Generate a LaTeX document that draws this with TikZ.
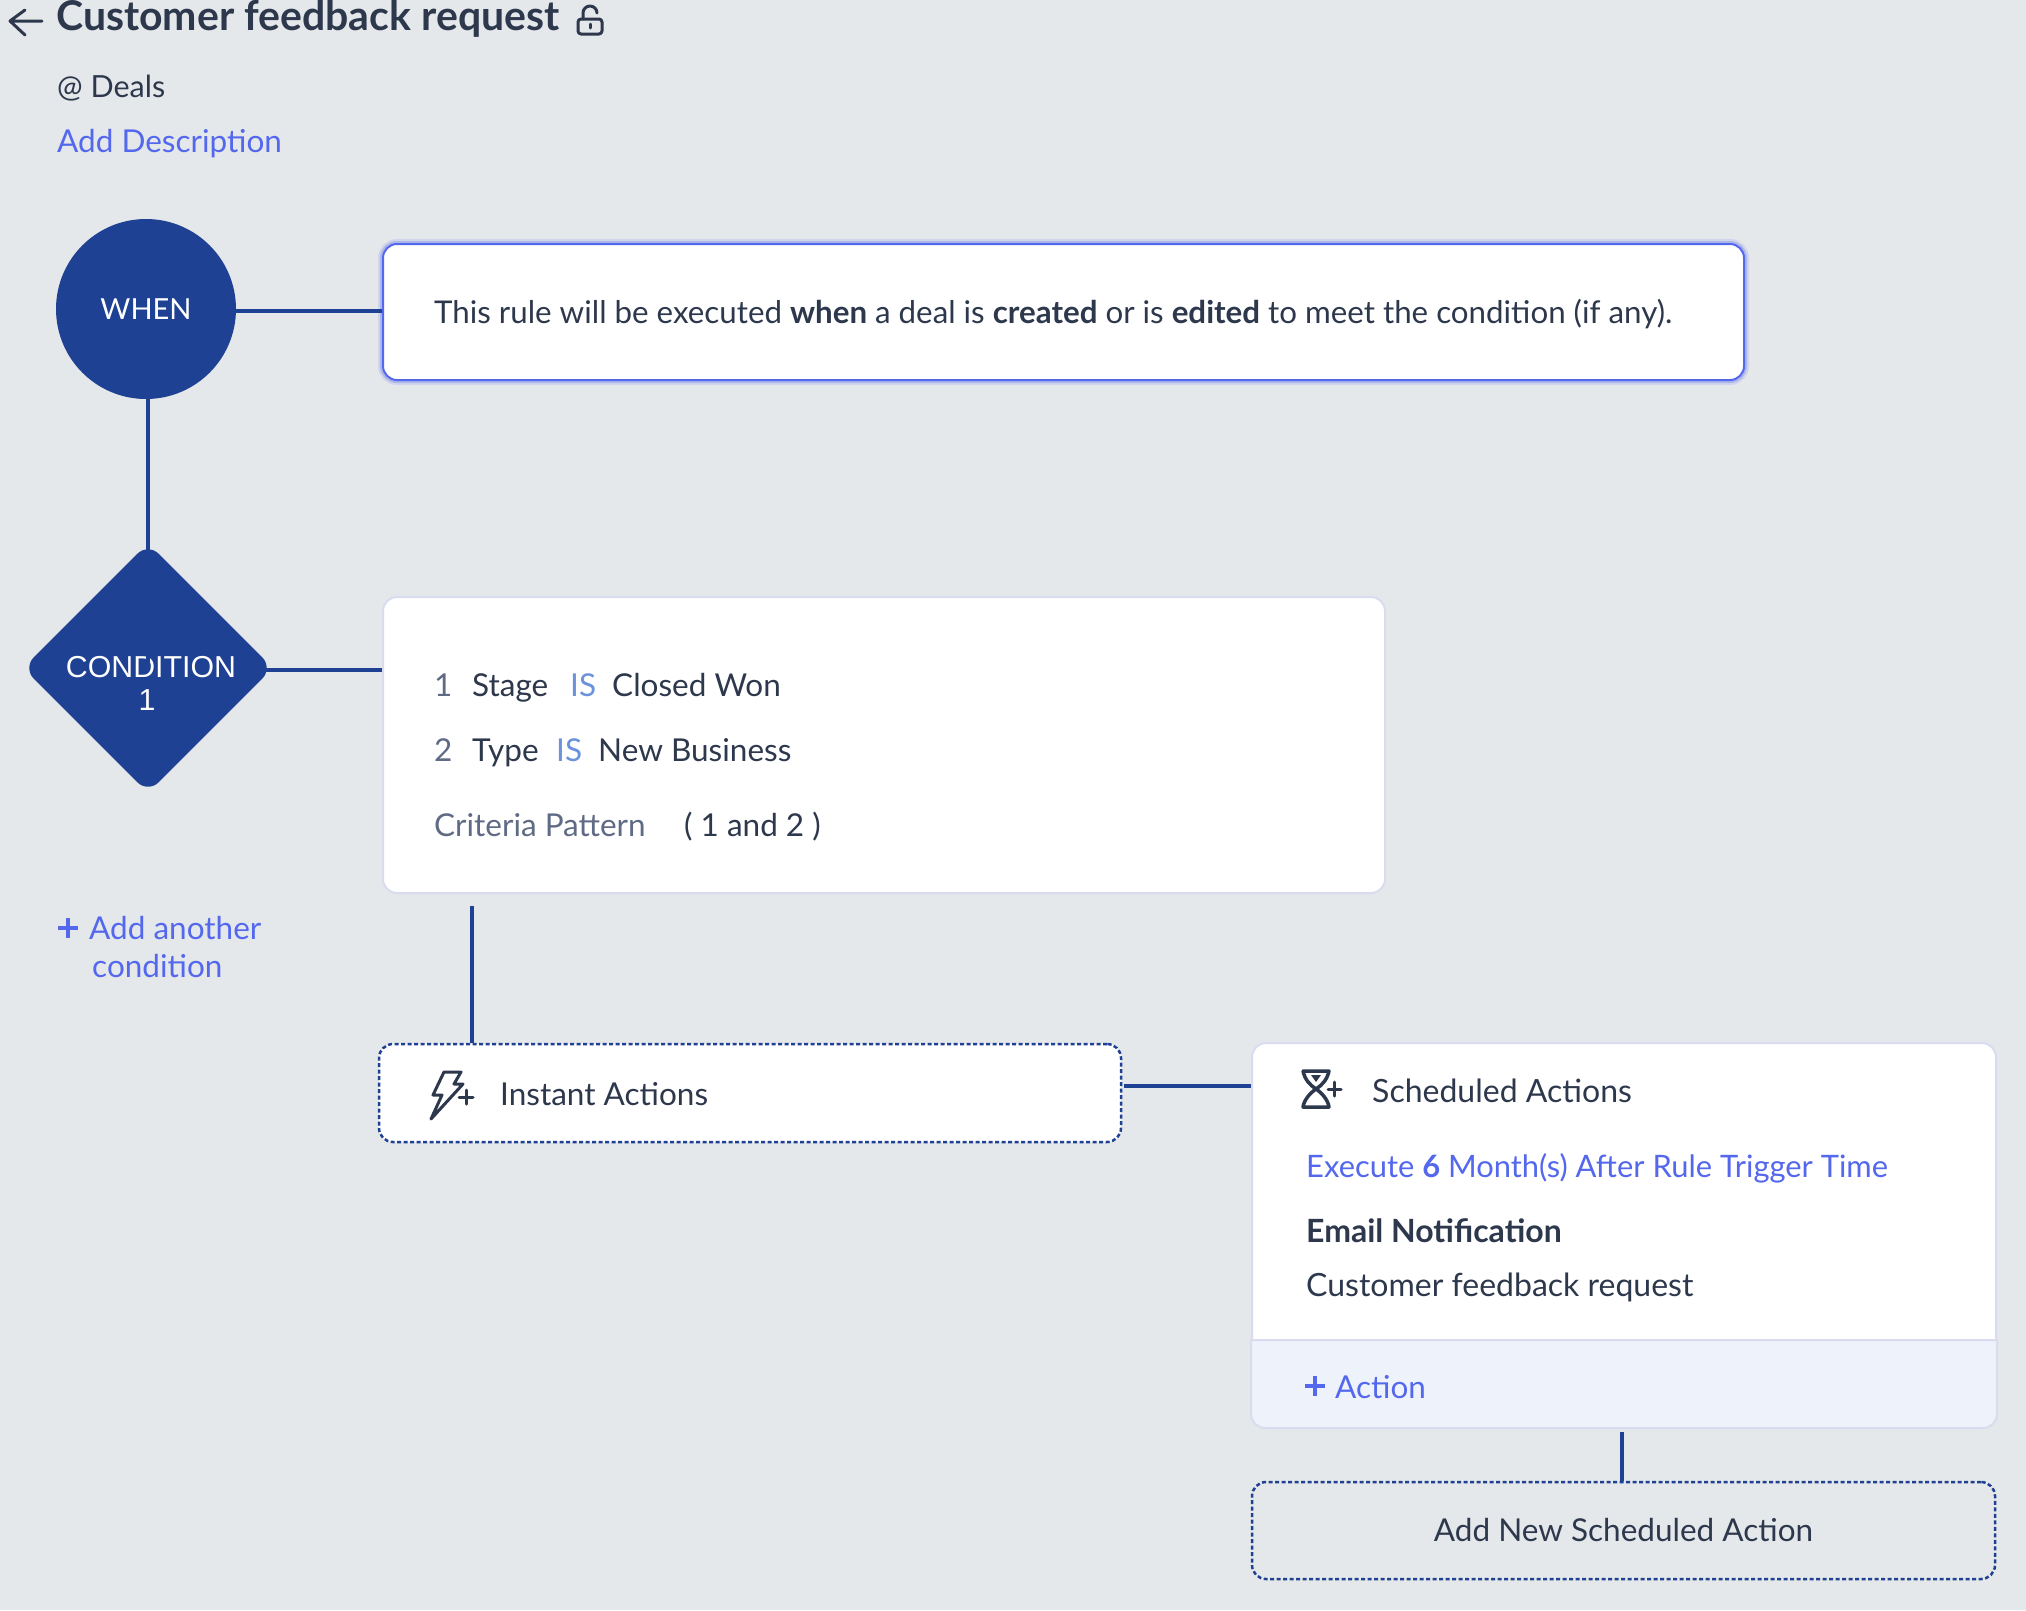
\documentclass[tikz,border=0pt]{standalone}
\usepackage{fontspec}
\usetikzlibrary{positioning, shapes.geometric}
\setmainfont{Lato}
\newfontfamily\condfont{Liberation Sans}

\definecolor{pagebg}{HTML}{E5E8EB}
\definecolor{navy}{HTML}{1F4193}
\definecolor{linkblue}{HTML}{5468EE}
\definecolor{inkdark}{HTML}{2E384D}
\definecolor{isblue}{HTML}{6B93DC}
\definecolor{inkgray}{HTML}{5F6B85}
\definecolor{cardline}{HTML}{D9DCEF}
\definecolor{bandfill}{HTML}{EEF2FB}

\tikzset{
    txt/.style={anchor=base west, inner sep=0pt, text=inkdark, font=\fontsize{31.5}{38}\selectfont},
    linktxt/.style={txt, text=linkblue},
    condtxt/.style={anchor=base, inner sep=0pt, text=white, font=\condfont\fontsize{30.3}{32}\selectfont},
    card/.style={draw=cardline, line width=2pt, fill=white, rounded corners=14pt, inner sep=0pt},
    dashbox/.style={draw=navy, line width=2.5pt, dash pattern=on 4pt off 2.5pt, rounded corners=14pt, inner sep=0pt, text=inkdark, font=\fontsize{31.5}{38}\selectfont},
    wire/.style={draw=navy, line width=4pt},
    icon/.style={draw=inkdark, line width=3pt, line cap=round, line join=round},
}

\begin{document}
\begin{tikzpicture}[x=1pt, y=-1pt]
    \useasboundingbox (0,0) rectangle (2026,1610);
    \fill[pagebg] (0,0) rectangle (2026,1610);

    % Header
    \node[txt, font=\fontsize{41}{48}\bfseries\selectfont] (title) at (56,30) {Customer feedback request};
    \node[txt, font=\fontsize{30.5}{36}\selectfont] (module) at (57,97) {@ Deals};
    \node[linktxt] (adddesc) at (57,152) {Add Description};
    \draw[icon] (42,21) -- (10,21) (25,10) -- (10,21) -- (25,35);
    \draw[icon, rounded corners=3pt] (578,19) rectangle (602,34);
    \draw[icon] (583,19) -- (583,13) arc (180:360:7);
    \draw[icon] (590,24) -- (590,28);

    % Rule blocks
    \node[circle, fill=navy, minimum size=180pt, inner sep=0pt] (when) at (146,309) {};
    \node[txt, anchor=base, text=white, font=\fontsize{29}{34}\selectfont] (whentxt) at (146,319) {WHEN};
    \node[diamond, fill=navy, minimum width=250pt, minimum height=250pt, inner sep=0pt, rounded corners=15pt] (condition) at (148,668) {};
    \node[condtxt] (conditiontxt) at (151,677) {CONDITION};
    \node[condtxt] (conditionnum) at (147,710) {1};
    \node[card, draw=linkblue, minimum width=1361pt, minimum height=136pt,
        preaction={draw=linkblue, line width=10pt, draw opacity=0.14},
        preaction={draw=linkblue, line width=6pt, draw opacity=0.28}] (rulecard) at (1063.5,312) {};
    \node[card, minimum width=1002pt, minimum height=296pt] (condcard) at (884,745) {};
    \node[dashbox, fill=white, minimum width=742pt, minimum height=98pt] (instant) at (750,1093) {};
    \node[card, minimum width=744pt, minimum height=384pt] (schedcard) at (1624,1235) {};
    \node[dashbox, minimum width=743pt, minimum height=97pt] (addnew) at (1623.5,1530.5) {Add New Scheduled Action};

    % Action band of the scheduled card
    \draw[draw=cardline, line width=2pt, fill=bandfill] (schedcard.west |- 0,1340) [rounded corners=14pt] -- (schedcard.south west) -- (schedcard.south east) [sharp corners] -- (schedcard.east |- 0,1340) -- cycle;

    % Connectors
    \coordinate (whenout) at (232,311);
    \coordinate (condout) at (258,670);
    \coordinate (condfoot) at (472,906);
    \coordinate (instout) at (1124,1086);
    \coordinate (schedfoot) at (1622,1432);
    \draw[wire] (whenout) -- (whenout -| rulecard.west);
    \draw[wire] (condition.north |- when.south) -- (condition.center);
    \draw[wire] (condout) -- (condout -| condcard.west);
    \draw[wire] (condfoot) -- (condfoot |- instant.north);
    \draw[wire] (instout) -- (instout -| schedcard.west);
    \draw[wire] (schedfoot) -- (schedfoot |- addnew.north);

    % Rule text
    \node[txt, font=\fontsize{31.3}{38}\selectfont] (ruletxt) at (434,323) {This rule will be executed \textbf{when} a deal is \textbf{created} or is \textbf{edited} to meet the condition (if any).};

    % Criteria
    \foreach \nm/\num/\fld/\fx/\ix/\vx/\val/\by in {a/1/Stage/472/570/612/Closed Won/696, b/2/Type/472/556/598/New Business/761} {
        \node[txt, text=inkgray] (num\nm) at (434,\by) {\num};
        \node[txt] (field\nm) at (\fx,\by) {\fld};
        \node[txt, text=isblue] (is\nm) at (\ix,\by) {IS};
        \node[txt] (value\nm) at (\vx,\by) {\val};
    }
    \node[txt, text=inkgray] (pattern) at (434,836) {Criteria Pattern};
    \node[txt] (patternval) at (684,836) {( 1 and 2 )};
    \draw[draw=linkblue, line width=3.5pt] (58,928) -- (78,928) (68,918) -- (68,938);
    \node[linktxt] (addcond) at (89,939) {Add another};
    \node[linktxt] (addcondb) at (92,977) {condition};

    % Instant actions
    \node[txt] (instanttxt) at (500,1105) {Instant Actions};
    \draw[icon] (444,1072) -- (461,1072) -- (454,1084) -- (463,1084) -- (431,1119) -- (442,1095) -- (433,1095) -- cycle;
    \draw[icon] (459,1097) -- (473,1097) (466,1090) -- (466,1104);

    % Scheduled actions
    \node[txt, font=\fontsize{32}{38}\selectfont] (schedtxt) at (1372,1102) {Scheduled Actions};
    \draw[icon, line width=3.5pt] (1303,1071) -- (1329,1071) .. controls (1327,1080) and (1322,1085) .. (1316,1089) .. controls (1310,1085) and (1305,1080) .. (1303,1071);
    \draw[icon, line width=3.5pt] (1316,1089) .. controls (1322,1093) and (1328,1100) .. (1329,1107) -- (1303,1107) .. controls (1304,1100) and (1310,1093) .. (1316,1089);
    \fill[inkdark] (1311,1075) -- (1321,1075) -- (1316,1082) -- cycle;
    \draw[icon] (1328,1089) -- (1341,1089) (1334,1082) -- (1334,1096);
    \node[linktxt, font=\fontsize{30.9}{38}\selectfont] (exectxt) at (1306,1177) {Execute \textbf{6} Month(s) After Rule Trigger Time};
    \node[txt, font=\fontsize{32}{38}\bfseries\selectfont] (emailtxt) at (1306,1242) {Email Notification};
    \node[txt, font=\fontsize{32}{38}\selectfont] (feedbacktxt) at (1306,1296) {Customer feedback request};
    \draw[draw=linkblue, line width=3.5pt] (1305,1386) -- (1325,1386) (1315,1376) -- (1315,1396);
    \node[linktxt] (actiontxt) at (1335,1398) {Action};
\end{tikzpicture}
\end{document}
